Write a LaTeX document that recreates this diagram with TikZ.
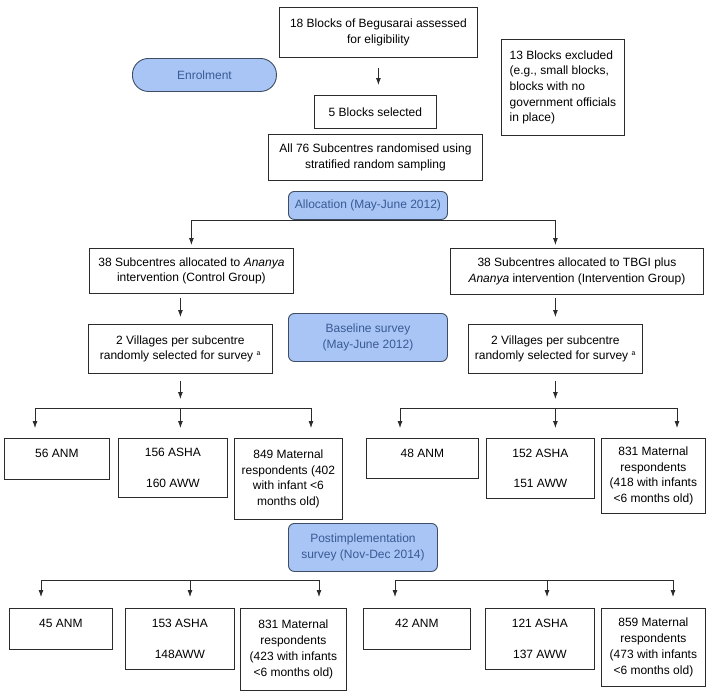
\documentclass[tikz,border=0pt]{standalone}
\usepackage{fontspec}
\setmainfont{Liberation Sans}
\usetikzlibrary{arrows.meta,calc}
\definecolor{bfill}{HTML}{A8C5F5}
\definecolor{bdraw}{HTML}{3E4D63}
\definecolor{btext}{HTML}{3A5A94}
\definecolor{ln}{HTML}{2B2B2B}
\begin{document}
\begin{tikzpicture}[x=1pt,y=-1pt,
  font=\fontsize{12}{15.7}\selectfont,
  wbox/.style={draw=ln, line width=0.8pt, fill=white, inner sep=0pt, anchor=north west, align=center, text=black},
  top/.style={text depth=11pt},
  bbox/.style={draw=bdraw, line width=0.9pt, fill=bfill, inner sep=0pt, anchor=north west, align=center, text=btext, rounded corners=6pt},
  arr/.style={draw=ln, line width=0.8pt, -{Latex[length=7pt,width=5pt]}},
  brl/.style={draw=ln, line width=0.8pt}]
\useasboundingbox (0,0) rectangle (708,696);

% enrolment part
\node[wbox, minimum width=198pt, minimum height=50pt] (b18) at (279,7) {18 Blocks of Begusarai assessed\\for eligibility};
\node[bbox, minimum width=144pt, minimum height=33pt, rounded corners=16pt] (enrol) at (132,58) {Enrolment};
\node[wbox, minimum width=122pt, minimum height=33pt] (b5) at (314,95) {5 Blocks selected};
\node[wbox, minimum width=214pt, minimum height=46pt] (b76) at (268,134) {All 76 Subcentres randomised using\\stratified random sampling};
\node[wbox, minimum width=123pt, minimum height=96pt, align=left] (b13) at (501,39) {13 Blocks excluded\\(e.g., small blocks,\\blocks with no\\government officials\\in place)};
\draw[arr, shorten <=10pt, shorten >=10pt] (b18.south) -- (b18.south |- b5.north);

% allocation
\node[bbox, minimum width=159pt, minimum height=28pt] (alloc) at (288,191) {Allocation (May-June 2012)};
\node[wbox, minimum width=204pt, minimum height=45pt] (l38) at (89,248) {38 Subcentres allocated to \textit{Ananya}\\intervention (Control Group)};
\node[wbox, minimum width=253pt, minimum height=46pt] (r38) at (450,248) {38 Subcentres allocated to TBGI plus\\\textit{Ananya} intervention (Intervention Group)};

% baseline
\node[bbox, minimum width=159pt, minimum height=48pt] (base) at (288,313) {Baseline survey\\(May-June 2012)};
\node[wbox, minimum width=184pt, minimum height=49pt] (lv) at (88,324) {2 Villages per subcentre\\randomly selected for survey \textsuperscript{\scriptsize a}};
\node[wbox, minimum width=174pt, minimum height=49pt] (rv) at (468,324) {2 Villages per subcentre\\randomly selected for survey \textsuperscript{\scriptsize a}};

\draw[arr, shorten >=3pt] (alloc.south) -| (l38.north);
\draw[arr, shorten >=3pt] (alloc.south) -| (rv.north |- r38.north);
\draw[arr, shorten <=4pt, shorten >=7pt] (l38.south -| lv.north) -- (lv.north);
\draw[arr, shorten <=3pt, shorten >=7pt] (r38.south -| rv.north) -- (rv.north);

% baseline results
\node[wbox, top, minimum width=105pt, minimum height=41pt] (a1) at (4,438) {56 ANM};
\node[wbox, minimum width=109pt, minimum height=59pt] (a2) at (118,438) {156 ASHA\\[15pt]160 AWW};
\node[wbox, minimum width=108pt, minimum height=81pt] (a3) at (234,438) {849 Maternal\\respondents (402\\with infant <6\\months old)};
\node[wbox, top, minimum width=112pt, minimum height=40pt] (a4) at (366,438) {48 ANM};
\node[wbox, minimum width=108pt, minimum height=60pt] (a5) at (486,438) {152 ASHA\\[15pt]151 AWW};
\node[wbox, minimum width=104pt, minimum height=75pt] (a6) at (601,438) {831 Maternal\\respondents\\(418 with infants\\<6 months old)};

\coordinate (bl1) at (35,408);
\coordinate (bl3) at (311,408);
\coordinate (br1) at (400,408);
\coordinate (br3) at (677,408);
\draw[arr, shorten <=7pt] (lv.south) -- ($(lv.south |- bl1)+(0,-9)$);
\draw[arr, shorten <=7pt] (rv.south) -- ($(rv.south |- br1)+(0,-9)$);
\draw[brl] (bl1) -- (bl3);
\draw[brl] (br1) -- (br3);
\draw[arr, shorten >=10pt] (bl1) -- (bl1 |- a1.north);
\draw[arr, shorten >=10pt] (lv.south |- bl1) -- (lv.south |- a2.north);
\draw[arr, shorten >=10pt] (bl3) -- (bl3 |- a3.north);
\draw[arr, shorten >=10pt] (br1) -- (br1 |- a4.north);
\draw[arr, shorten >=10pt] (rv.south |- br1) -- (rv.south |- a5.north);
\draw[arr, shorten >=10pt] (br3) -- (br3 |- a6.north);

% post-implementation
\node[bbox, minimum width=149pt, minimum height=48pt] (post) at (288,523) {Postimplementation\\survey (Nov-Dec 2014)};
\node[wbox, top, minimum width=103pt, minimum height=41pt] (c1) at (9,608) {45 ANM};
\node[wbox, minimum width=109pt, minimum height=61pt] (c2) at (125,608) {153 ASHA\\[15pt]148AWW};
\node[wbox, minimum width=106pt, minimum height=82pt] (c3) at (240,608) {831 Maternal\\respondents\\(423 with infants\\<6 months old)};
\node[wbox, top, minimum width=107pt, minimum height=41pt] (c4) at (363,608) {42 ANM};
\node[wbox, minimum width=109pt, minimum height=61pt] (c5) at (485,608) {121 ASHA\\[15pt]137 AWW};
\node[wbox, minimum width=104pt, minimum height=78pt] (c6) at (601,608) {859 Maternal\\respondents\\(473 with infants\\<6 months old)};

\coordinate (cl1) at (41,580);
\coordinate (cl2) at (190,580);
\coordinate (cl3) at (319,580);
\coordinate (cr1) at (395,580);
\coordinate (cr2) at (547,580);
\coordinate (cr3) at (673,580);
\draw[brl] (cl1) -- (cl3);
\draw[brl] (cr1) -- (cr3);
\draw[arr, shorten >=11pt] (cl1) -- (cl1 |- c1.north);
\draw[arr, shorten >=11pt] (cl2) -- (cl2 |- c2.north);
\draw[arr, shorten >=11pt] (cl3) -- (cl3 |- c3.north);
\draw[arr, shorten >=11pt] (cr1) -- (cr1 |- c4.north);
\draw[arr, shorten >=11pt] (cr2) -- (cr2 |- c5.north);
\draw[arr, shorten >=11pt] (cr3) -- (cr3 |- c6.north);
\end{tikzpicture}
\end{document}
